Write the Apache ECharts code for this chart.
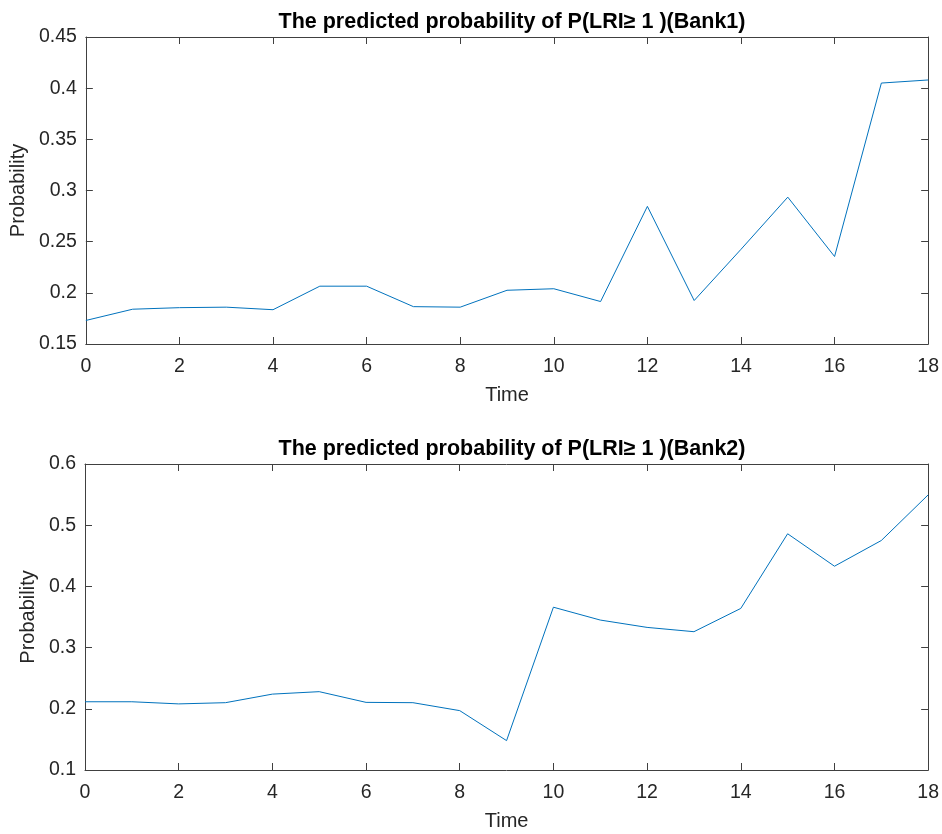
<!DOCTYPE html>
<html>
<head>
<meta charset="utf-8">
<script src="https://cdn.jsdelivr.net/npm/echarts@6/dist/echarts.min.js"></script>
<style>
  html, body { margin: 0; padding: 0; background: #fff; }
  #main { width: 942px; height: 834px; }
</style>
</head>
<body>
<div id="main"></div>
<script>
var times = [0, 1, 2, 3, 4, 5, 6, 7, 8, 9, 10, 11, 12, 13, 14, 15, 16, 17, 18];
var bank1 = [0.173, 0.184, 0.1855, 0.186, 0.1835, 0.2065, 0.2065, 0.1865, 0.186, 0.2025,
             0.204, 0.1915, 0.2845, 0.1925, 0.2425, 0.2935, 0.2355, 0.405, 0.408];
var bank2 = [0.2115, 0.2115, 0.208, 0.21, 0.224, 0.228, 0.2105, 0.21, 0.197, 0.148,
             0.366, 0.345, 0.333, 0.326, 0.364, 0.486, 0.433, 0.475, 0.5495];
var titles = ['The predicted probability of P(LRI\u2265 1 )(Bank1)',
              'The predicted probability of P(LRI\u2265 1 )(Bank2)'];

var dom = document.getElementById('main');
var myChart = echarts.init(dom, null, { renderer: 'canvas' });

var axisColor = '#404040';
var font = 'Liberation Sans, Arial, Helvetica, sans-serif';

function pairs(ys) {
  return times.map(function (t, i) { return [t, ys[i]]; });
}

function boxX(gridIndex, pos, showLabels) {
  return {
    type: 'value', gridIndex: gridIndex, position: pos,
    min: 0, max: 18, interval: 2,
    name: showLabels ? 'Time' : '',
    nameLocation: 'middle', nameGap: 41,
    nameTextStyle: { color: '#262626', fontSize: 20, fontFamily: font },
    axisLine: { show: true, onZero: false, lineStyle: { color: axisColor, width: 1 } },
    axisTick: { show: true, inside: true, length: 7, lineStyle: { color: axisColor } },
    axisLabel: { show: showLabels, color: '#262626', fontSize: 19.5, fontFamily: font, margin: 13 },
    splitLine: { show: false }
  };
}

function boxY(gridIndex, pos, showLabels, min, max, step, gap) {
  return {
    type: 'value', gridIndex: gridIndex, position: pos,
    min: min, max: max, interval: step,
    name: showLabels ? 'Probability' : '',
    nameLocation: 'middle', nameGap: gap, nameRotate: 90,
    nameTextStyle: { color: '#262626', fontSize: 20, fontFamily: font },
    axisLine: { show: true, onZero: false, lineStyle: { color: axisColor, width: 1 } },
    axisTick: { show: true, inside: true, length: 7, lineStyle: { color: axisColor } },
    axisLabel: { show: showLabels, color: '#262626', fontSize: 19.5, fontFamily: font, margin: 9,
      formatter: function (v) { return String(+v.toFixed(2)); } },
    splitLine: { show: false }
  };
}

var option = {
  backgroundColor: '#fff',
  animation: false,
  title: [
    { text: titles[0], left: 507, top: 6, textAlign: 'center',
      textStyle: { fontSize: 21.5, fontWeight: 'bold', color: '#000', fontFamily: font } },
    { text: titles[1], left: 507, top: 433, textAlign: 'center',
      textStyle: { fontSize: 21.5, fontWeight: 'bold', color: '#000', fontFamily: font } }
  ],
  grid: [
    { left: 85, right: 13, top: 37, height: 307 },
    { left: 85, right: 13, top: 464, height: 306 }
  ],
  xAxis: [
    boxX(0, 'bottom', true), boxX(0, 'top', false),
    boxX(1, 'bottom', true), boxX(1, 'top', false)
  ],
  yAxis: [
    boxY(0, 'left', true, 0.15, 0.45, 0.05, 56), boxY(0, 'right', false, 0.15, 0.45, 0.05, 0),
    boxY(1, 'left', true, 0.1, 0.6, 0.1, 44), boxY(1, 'right', false, 0.1, 0.6, 0.1, 0)
  ],
  series: [
    { type: 'line', xAxisIndex: 0, yAxisIndex: 0, data: pairs(bank1), showSymbol: false,
      lineStyle: { color: '#0072BD', width: 1 } },
    { type: 'line', xAxisIndex: 2, yAxisIndex: 2, data: pairs(bank2), showSymbol: false,
      lineStyle: { color: '#0072BD', width: 1 } }
  ]
};

myChart.setOption(option);
window.addEventListener('resize', myChart.resize);
</script>
</body>
</html>
